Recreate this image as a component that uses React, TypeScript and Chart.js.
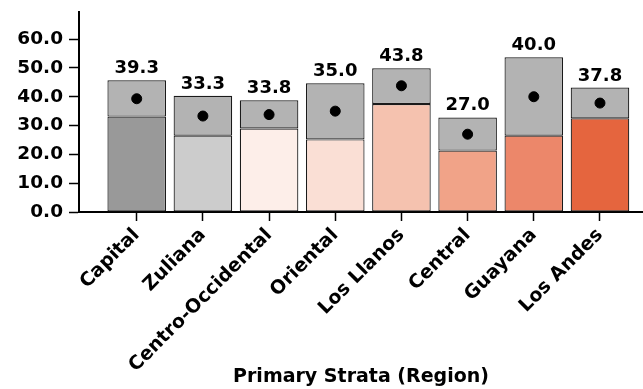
import React, { useEffect, useRef } from "react";
import { Chart, registerables } from "chart.js";

Chart.register(...registerables);

const categories = ["Capital", "Zuliana", "Centro-Occidental", "Oriental", "Los Llanos", "Central", "Guayana", "Los Andes"];
const means = [39.3, 33.3, 33.8, 35.0, 43.8, 27.0, 40.0, 37.8];
const lowerBounds = [33.1, 26.5, 29.0, 25.2, 37.5, 21.3, 26.5, 32.5];
const upperBounds = [45.7, 40.3, 38.8, 44.7, 49.9, 32.8, 53.7, 43.2];
const barColors = ["#999999", "#cccccc", "#fdeee9", "#fadfd5", "#f5c2af", "#f1a388", "#ec876a", "#e5653e"];
const yTicks = [0, 10, 20, 30, 40, 50, 60];

const FONT = "'DejaVu Sans', sans-serif";

export default function App() {
  const ref = useRef<HTMLCanvasElement | null>(null);

  useEffect(() => {
    document.body.style.margin = "0";
    const canvas = ref.current;
    if (!canvas) return;

    const labelPlugin = {
      id: "meanLabels",
      afterDatasetsDraw(chart: any) {
        const ctx = chart.ctx;
        const xs = chart.scales.x;
        const ys = chart.scales.y;
        ctx.save();
        ctx.font = `bold 18px ${FONT}`;
        ctx.fillStyle = "#000";
        ctx.textAlign = "center";
        ctx.textBaseline = "alphabetic";
        means.forEach((m, i) => {
          const x = xs.getPixelForValue(i);
          const y = ys.getPixelForValue(upperBounds[i]) - 7;
          ctx.fillText(m.toFixed(1), x, y);
        });
        ctx.restore();
      },
    };

    const zeroPad = (scale: any) => {
      scale.paddingLeft = 0;
      scale.paddingRight = 0;
      scale.paddingTop = 0;
      scale.paddingBottom = 0;
    };

    const chart = new Chart(canvas, {
      type: "bar",
      data: {
        datasets: [
          {
            type: "scatter",
            label: "Mean",
            data: means.map((m, i) => ({ x: i, y: m })),
            backgroundColor: "#000",
            borderColor: "#000",
            pointRadius: 5,
            pointHoverRadius: 5,
            order: 0,
          } as any,
          {
            label: "Interval",
            data: upperBounds.map((v, i) => ({ x: i, y: [lowerBounds[i], v] })),
            backgroundColor: "#b3b3b3",
            borderColor: "#1a1a1a",
            borderWidth: 1.2,
            borderSkipped: false,
            stack: "a",
            categoryPercentage: 1,
            barPercentage: 0.885,
            order: 1,
          },
          {
            label: "Lower",
            data: lowerBounds.map((v, i) => ({ x: i, y: [0, v] })),
            backgroundColor: barColors,
            borderColor: "#1a1a1a",
            borderWidth: 1.2,
            borderSkipped: false,
            stack: "a",
            categoryPercentage: 1,
            barPercentage: 0.885,
            order: 2,
          },
        ],
      },
      options: {
        animation: false,
        responsive: false,
        maintainAspectRatio: false,
        layout: { autoPadding: false, padding: { top: 12, right: 0, left: 0, bottom: 0 } },
        plugins: {
          legend: { display: false },
          tooltip: { enabled: false },
          title: { display: false },
        },
        scales: {
          x: {
            type: "linear",
            stacked: true,
            offset: false,
            min: -0.872,
            max: 7.65,
            afterBuildTicks: (scale: any) => {
              scale.ticks = categories.map((_, i) => ({ value: i }));
            },
            afterFit: (scale: any) => {
              scale.height = 177;
              zeroPad(scale);
            },
            grid: {
              drawOnChartArea: false,
              drawTicks: true,
              tickLength: 9,
              tickWidth: 1.5,
              tickColor: "#000",
              offset: false,
            },
            border: { display: true, color: "#000", width: 2 },
            ticks: {
              autoSkip: false,
              minRotation: 45,
              maxRotation: 45,
              padding: 3,
              color: "#000",
              font: { family: FONT, size: 19, weight: "bold" },
              callback: (v: any) => categories[Math.round(Number(v))] ?? "",
            },
            title: {
              display: true,
              text: "Primary Strata (Region)",
              color: "#000",
              font: { family: FONT, size: 19, weight: "bold" },
              padding: { top: 0, bottom: 1 },
            },
          },
          y: {
            type: "linear",
            stacked: false,
            min: 0,
            max: 69.4,
            afterBuildTicks: (scale: any) => {
              scale.ticks = yTicks.map((v) => ({ value: v }));
            },
            afterFit: (scale: any) => {
              scale.width = 79;
              zeroPad(scale);
            },
            grid: {
              drawOnChartArea: false,
              drawTicks: true,
              tickLength: 10,
              tickWidth: 1.5,
              tickColor: "#000",
            },
            border: { display: true, color: "#000", width: 2 },
            ticks: {
              padding: 6,
              color: "#000",
              font: { family: FONT, size: 18.5, weight: "bold" },
              callback: (v: any) => Number(v).toFixed(1),
            },
          },
        },
      } as any,
      plugins: [labelPlugin],
    });

    return () => chart.destroy();
  }, []);

  return (
    <div style={{ width: 643, height: 389 }}>
      <canvas ref={ref} width={643} height={389} style={{ display: "block" }} />
    </div>
  );
}
